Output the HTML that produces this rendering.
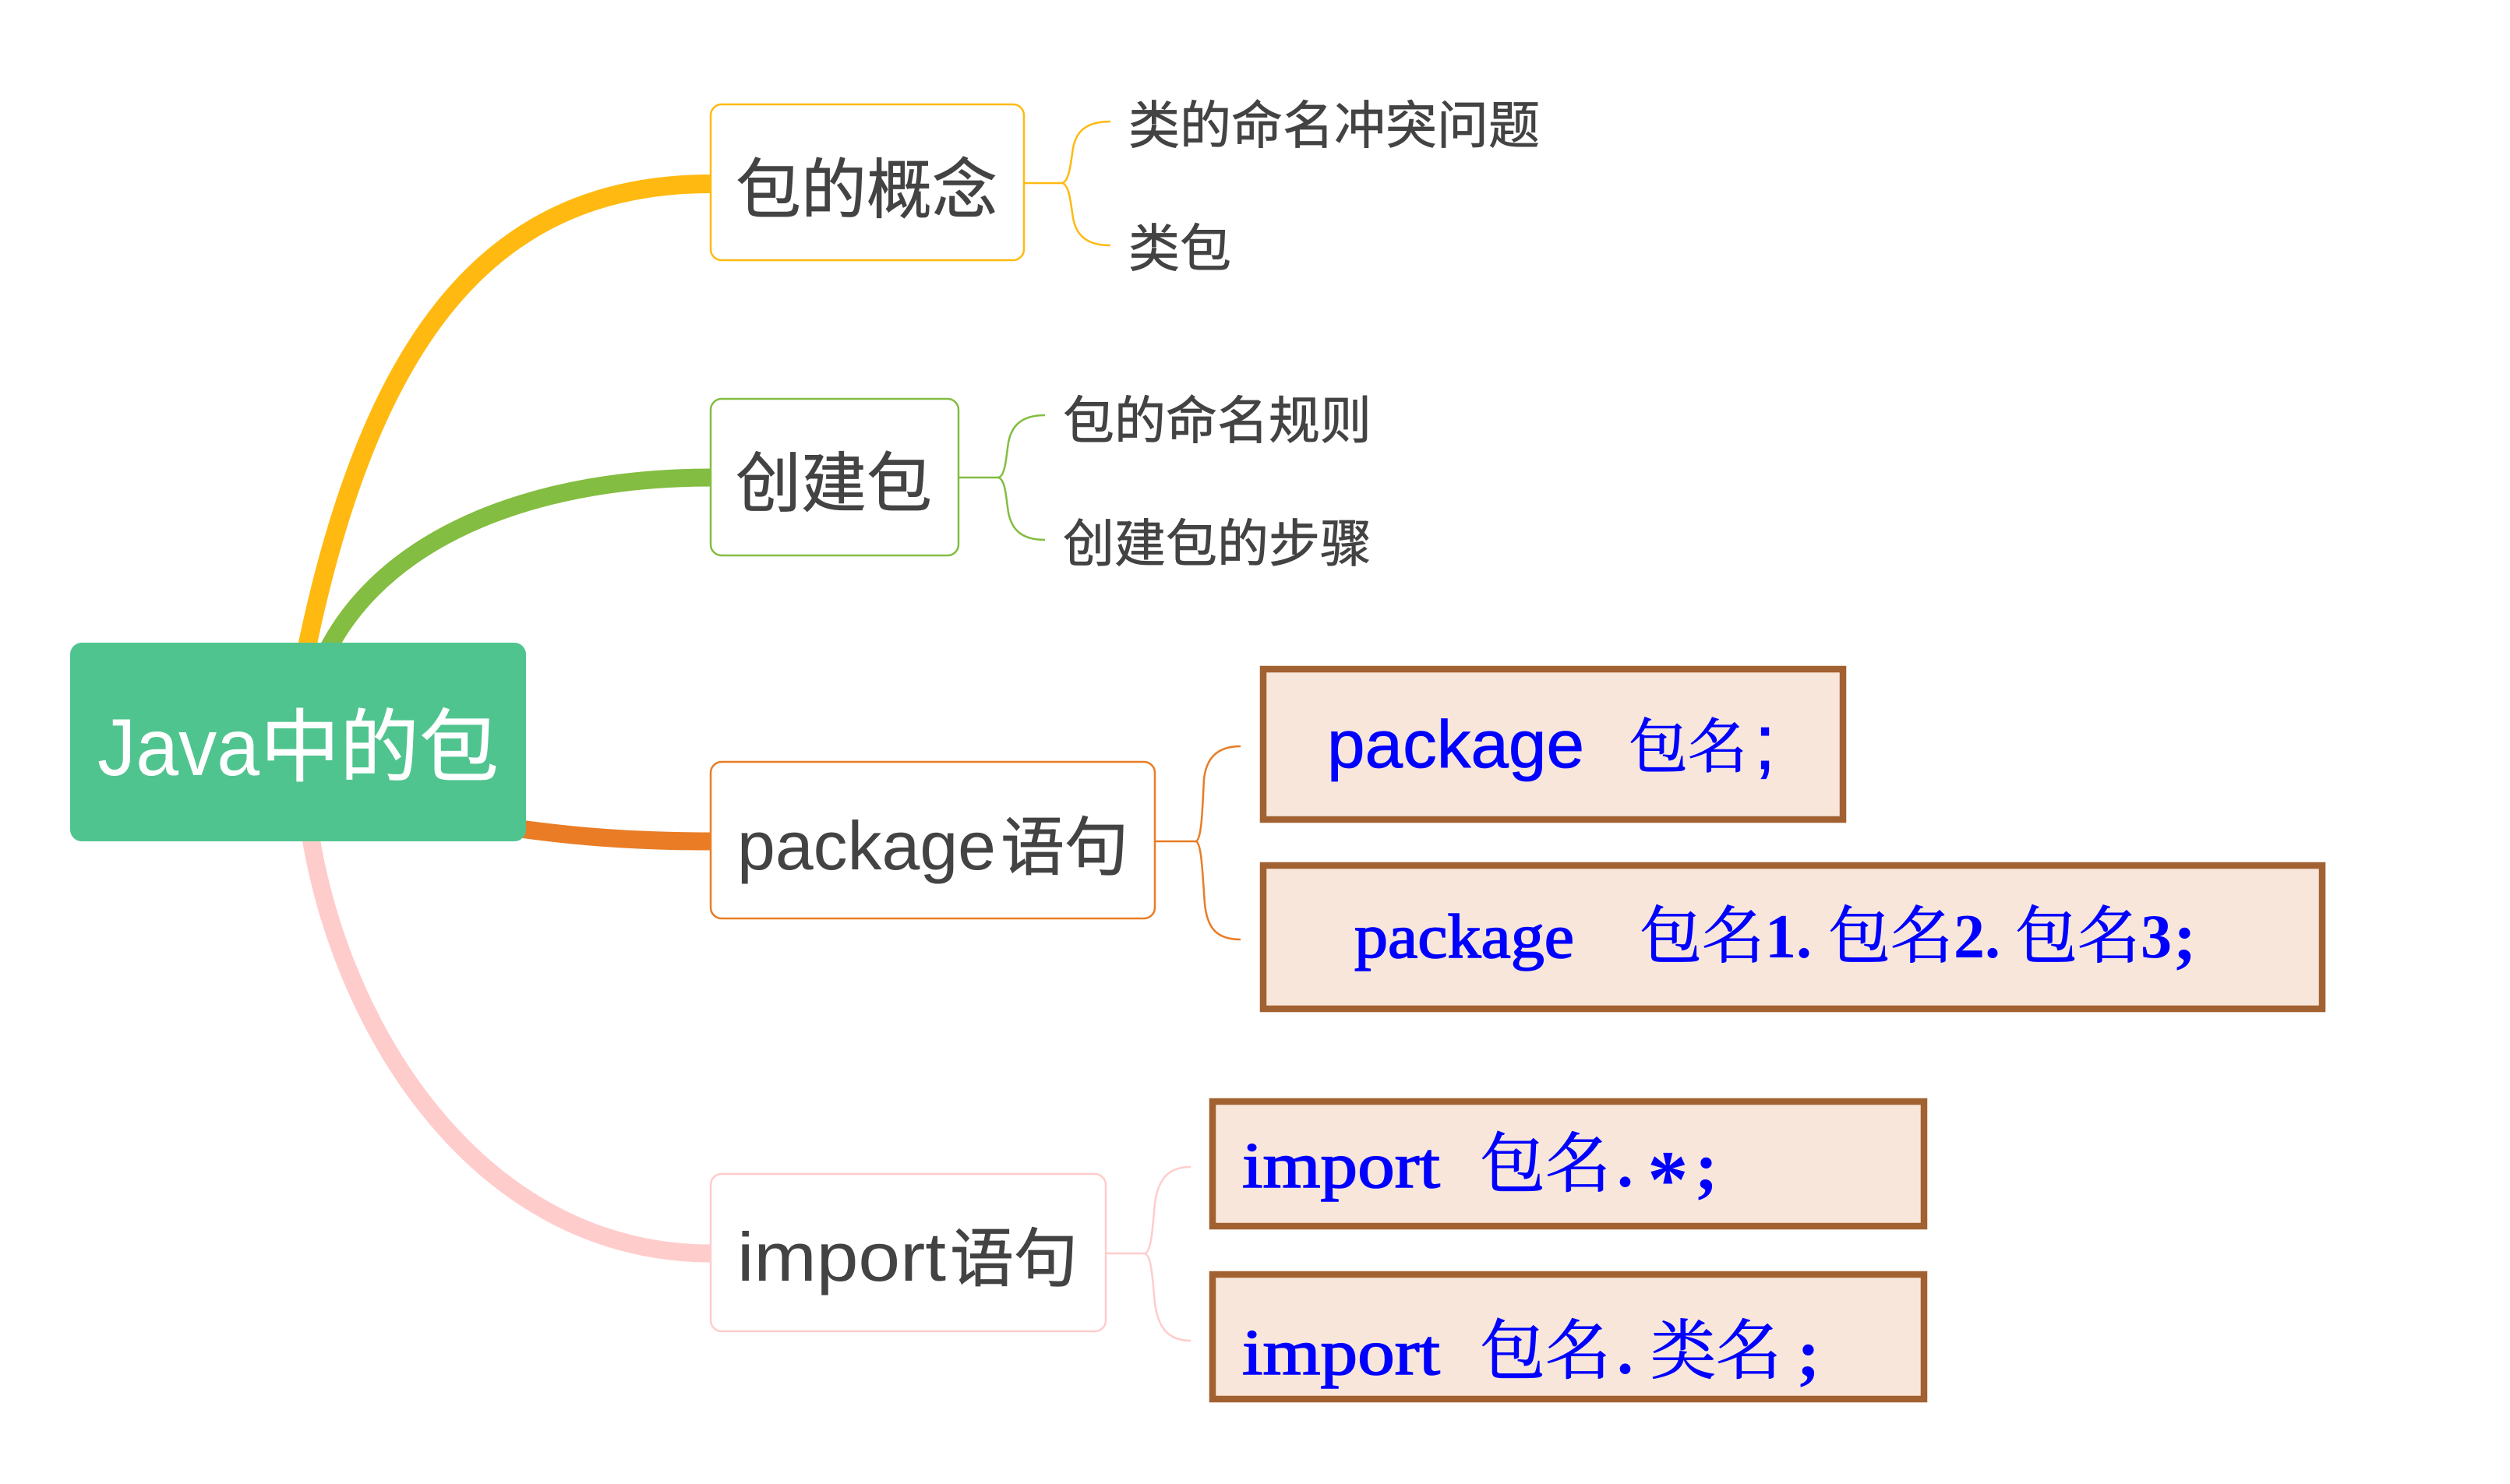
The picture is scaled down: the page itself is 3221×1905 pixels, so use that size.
<!DOCTYPE html>
<html lang="zh">
<head>
<meta charset="utf-8">
<title>Java中的包</title>
<style>
html,body{margin:0;padding:0;background:#fff;width:3221px;height:1905px;overflow:hidden}
svg{display:block}
.s{font-family:"Liberation Sans","Noto Sans CJK SC",sans-serif;fill:#434343}
.c{font-family:"Noto Sans CJK SC","Liberation Sans",sans-serif;fill:#434343;stroke:#434343;stroke-width:.7}
.w{fill:#fff;stroke:#fff}
.b{font-family:"Liberation Sans",sans-serif;fill:#00f;stroke:#00f;stroke-width:.8}
.l{font-family:"Liberation Serif","Noto Serif CJK SC",serif;fill:#00f;stroke:#00f;stroke-width:1.6}
.p{font-family:"Liberation Serif",serif;font-weight:bold;fill:#00f}
.z{font-family:"Noto Serif CJK SC","Liberation Serif",serif;fill:#00f;stroke:#00f;stroke-width:1}
.box{fill:#f8e6da;stroke:#a26130;stroke-width:8.5}
</style>
</head>
<body>
<svg width="3221" height="1905" viewBox="0 0 3221 1905" xmlns="http://www.w3.org/2000/svg">
<rect width="3221" height="1905" fill="#fff"/>

<g fill="none" stroke-width="23">
<path d="M392 840C480 410 645 236 912 236" stroke="#ffb911" stroke-width="24"/>
<path d="M420 835C500 680 700 613 912 613" stroke="#83bd41"/>
<path d="M640 1060C720 1072 800 1080 912 1080" stroke="#e97c25"/>
<path d="M398 1070C440 1330 620 1609 912 1609" stroke="#fcc"/>
</g>

<rect x="90" y="825" width="585" height="255" rx="15" fill="#50c48f"/>
<text x="125" y="995" class="s" style="fill:#fff" font-size="104" textLength="208" lengthAdjust="spacingAndGlyphs">Java</text>
<text x="334" y="995" class="c w" font-size="102">中的包</text>

<g fill="#fff" stroke-width="2.5">
<rect x="912" y="134" width="402" height="200" rx="14" stroke="#ffb911"/>
<rect x="912" y="512" width="318" height="201" rx="14" stroke="#83bd41"/>
<rect x="912" y="978" width="570" height="201" rx="14" stroke="#e97c25"/>
<rect x="912" y="1507" width="507" height="202" rx="14" stroke="#fcc"/>
</g>

<text x="944" y="273" class="c" font-size="84">包的概念</text>
<text x="944" y="650" class="c" font-size="84">创建包</text>
<text x="946" y="1116" class="s" font-size="88" textLength="332" lengthAdjust="spacingAndGlyphs">package</text>
<text x="1284" y="1116" class="c" font-size="82">语句</text>
<text x="946" y="1644" class="s" font-size="88" textLength="268" lengthAdjust="spacingAndGlyphs">import</text>
<text x="1219" y="1644" class="c" font-size="82">语句</text>

<g fill="none" stroke-width="2.5">
<path d="M1314 235H1362C1372 235 1374 210 1377 190C1381 170 1392 156 1425 156M1362 235C1372 235 1374 260 1377 280C1381 300 1392 315 1425 315" stroke="#ffb911"/>
<path d="M1230 613H1280C1290 613 1291 588 1294 568C1298 548 1309 533 1341 533M1280 613C1290 613 1291 638 1294 658C1298 678 1309 693 1341 693" stroke="#83bd41"/>
<path d="M1482 1080H1534C1542 1080 1543 1040 1545 1000C1548 975 1560 958 1592 958M1534 1080C1542 1080 1543 1120 1546 1160C1549 1190 1560 1206 1592 1206" stroke="#e97c25"/>
<path d="M1419 1609H1468C1478 1609 1479 1575 1482 1545C1486 1515 1498 1498 1528 1498M1468 1609C1478 1609 1479 1643 1482 1673C1486 1703 1498 1721 1528 1721" stroke="#fcc"/>
</g>

<text x="1448" y="184" class="c" font-size="66">类的命名冲突问题</text>
<text x="1448" y="342" class="c" font-size="66">类包</text>
<text x="1364" y="563" class="c" font-size="66">包的命名规则</text>
<text x="1364" y="721" class="c" font-size="66">创建包的步骤</text>

<rect x="1621" y="859" width="744" height="193" class="box"/>
<text x="1703" y="985" class="b" font-size="86" textLength="330" lengthAdjust="spacingAndGlyphs">package</text>
<text x="2090" y="985" class="z" font-size="76">包名</text>
<text x="2251" y="987" class="b" font-size="100">;</text>

<rect x="1621" y="1111" width="1359" height="184" class="box"/>
<text x="1738" y="1229" class="l" font-size="80" textLength="282" lengthAdjust="spacingAndGlyphs">package</text>
<text x="2104" y="1229" class="z" font-size="80">包名</text>
<text x="2265" y="1229" class="p" font-size="80">1.</text>
<text x="2346" y="1229" class="z" font-size="80">包名</text>
<text x="2507" y="1229" class="p" font-size="80">2.</text>
<text x="2586" y="1229" class="z" font-size="80">包名</text>
<text x="2747" y="1229" class="p" font-size="80">3</text>
<text x="2789" y="1232" class="p" font-size="88">;</text>

<rect x="1556" y="1414" width="913" height="160" class="box"/>
<text x="1594" y="1524" class="l" font-size="84" textLength="254" lengthAdjust="spacingAndGlyphs">import</text>
<text x="1899" y="1523" class="z" font-size="84">包名</text>
<text x="2075" y="1523" class="p" font-size="84">.</text>
<text x="2114" y="1549" class="p" font-size="105">*</text>
<text x="2175" y="1527" class="p" font-size="88">;</text>

<rect x="1556" y="1636" width="913" height="160" class="box"/>
<text x="1594" y="1764" class="l" font-size="84" textLength="254" lengthAdjust="spacingAndGlyphs">import</text>
<text x="1899" y="1763" class="z" font-size="84">包名</text>
<text x="2075" y="1763" class="p" font-size="84">.</text>
<text x="2118" y="1763" class="z" font-size="84">类名</text>
<text x="2306" y="1767" class="p" font-size="88">;</text>
</svg>
</body>
</html>
